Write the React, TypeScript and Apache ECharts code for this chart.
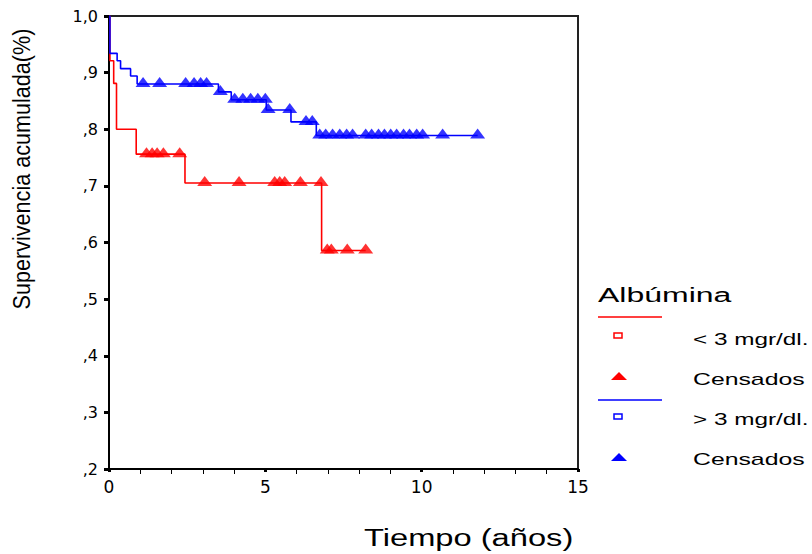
import React, { useEffect, useRef } from "react";
import * as echarts from "echarts";

// Kaplan–Meier survival by albumin group (time in years)
const redEventTimes = [0.03, 0.15, 0.24, 0.87, 2.43, 6.8];
const redSurvival = [0.921, 0.881, 0.8, 0.756, 0.705, 0.586];
const redCensoredTimes = [
  1.2, 1.38, 1.54, 1.74, 2.26, 3.06, 4.16, 5.3, 5.46, 5.62, 6.12, 6.78, 6.98,
  7.11, 7.62, 8.21,
];

const blueEventTimes = [0.03, 0.26, 0.37, 0.69, 0.9, 3.5, 3.91, 5.03, 5.82, 6.63];
const blueSurvival = [0.934, 0.921, 0.907, 0.894, 0.88, 0.866, 0.852, 0.834, 0.813, 0.789];
const blueCensoredTimes = [
  1.09, 1.62, 2.45, 2.72, 2.93, 3.12, 3.56, 4.02, 4.28, 4.53, 4.76, 5.0, 5.09,
  5.78, 6.3, 6.5, 6.74, 6.93, 7.15, 7.38, 7.6, 7.79, 8.21, 8.4, 8.62, 8.81,
  9.01, 9.2, 9.42, 9.61, 9.84, 10.03, 10.67, 11.79,
];

const xTicks = [0, 5, 10, 15];
const yMin = 0.2;
const yMax = 1.0;

const groupLabels = ["< 3 mgr/dl.", "> 3 mgr/dl."];
const censoredLabel = "Censados";
const legendTitle = "Albúmina";

const RED = "#ff0000";
const BLUE = "#0000ff";
const FONT = '"Liberation Sans", Arial, sans-serif';
const TICK_FONT = '"DejaVu Sans", sans-serif';

function stepCurve(times: number[], surv: number[], end: number) {
  const pts: number[][] = [[0, 1]];
  let prev = 1;
  times.forEach((t, i) => {
    pts.push([t, prev]);
    pts.push([t, surv[i]]);
    prev = surv[i];
  });
  pts.push([end, prev]);
  return pts;
}

function survivalAt(times: number[], surv: number[], t: number) {
  let s = 1;
  times.forEach((et, i) => {
    if (et <= t) s = surv[i];
  });
  return s;
}

function censorPoints(times: number[], surv: number[], cens: number[]) {
  return cens.map((t) => [t, survivalAt(times, surv, t)]);
}

function legendText(text: string, x: number, y: number, size: number, sx: number) {
  return {
    type: "text",
    x,
    y,
    scaleX: sx,
    style: {
      text,
      fontSize: size,
      fontFamily: FONT,
      fill: "#000",
      align: "left",
      verticalAlign: "middle",
    },
  };
}

export default function App() {
  const ref = useRef<HTMLDivElement>(null);

  useEffect(() => {
    if (!ref.current) return;
    const chart = echarts.init(ref.current, null, { renderer: "svg" });

    const redEnd = Math.max(...redCensoredTimes);
    const blueEnd = Math.max(...blueCensoredTimes);

    const option: any = {
      animation: false,
      backgroundColor: "#fff",
      grid: {
        left: 109,
        right: 234,
        top: 16,
        bottom: 85,
        containLabel: false,
        outerBoundsMode: "none",
        show: true,
        borderColor: "#222",
        borderWidth: 2,
      },
      xAxis: {
        type: "value",
        min: xTicks[0],
        max: xTicks[xTicks.length - 1],
        interval: 5,
        axisLine: { show: true, lineStyle: { color: "#000", width: 2 } },
        axisTick: { show: true, length: 3, lineStyle: { color: "#000", width: 3 } },
        minorTick: { show: true, splitNumber: 5, length: 5, lineStyle: { color: "#000", width: 1 } },
        splitLine: { show: false },
        axisLabel: {
          color: "#000",
          fontSize: 17,
          fontFamily: TICK_FONT,
          margin: 9,
        },
      },
      yAxis: {
        type: "value",
        min: yMin,
        max: yMax,
        interval: 0.1,
        axisLine: { show: true, lineStyle: { color: "#000", width: 2 } },
        axisTick: { show: true, length: 5, lineStyle: { color: "#000", width: 3 } },
        splitLine: { show: false },
        axisLabel: {
          color: "#000",
          fontSize: 16,
          fontFamily: TICK_FONT,
          margin: 11,
          formatter: (v: number) => {
            const d = Math.round(v * 10);
            return d === 10 ? "1,0" : "," + d;
          },
        },
      },
      series: [
        {
          name: groupLabels[0],
          type: "line",
          data: stepCurve(redEventTimes, redSurvival, redEnd),
          showSymbol: false,
          lineStyle: { color: RED, width: 1.6 },
          z: 2,
        },
        {
          name: groupLabels[1],
          type: "line",
          data: stepCurve(blueEventTimes, blueSurvival, blueEnd),
          showSymbol: false,
          lineStyle: { color: BLUE, width: 1.6 },
          z: 2,
        },
        {
          name: censoredLabel + " 1",
          type: "scatter",
          data: censorPoints(redEventTimes, redSurvival, redCensoredTimes),
          symbol: "triangle",
          symbolSize: [15, 10],
          symbolOffset: [0, -2],
          itemStyle: { color: RED },
          z: 3,
        },
        {
          name: censoredLabel + " 2",
          type: "scatter",
          data: censorPoints(blueEventTimes, blueSurvival, blueCensoredTimes),
          symbol: "triangle",
          symbolSize: [15, 10],
          symbolOffset: [0, -2],
          itemStyle: { color: BLUE },
          z: 3,
        },
      ],
      graphic: [
        {
          type: "text",
          x: 22,
          y: 169,
          rotation: Math.PI / 2,
          scaleX: 0.9,
          style: {
            text: "Supervivencia acumulada(%)",
            fontSize: 24,
            fontFamily: FONT,
            fill: "#000",
            align: "center",
            verticalAlign: "middle",
          },
        },
        {
          type: "text",
          x: 364,
          y: 538,
          scaleX: 1.42,
          style: {
            text: "Tiempo (años)",
            fontSize: 23,
            fontFamily: FONT,
            fill: "#000",
            align: "left",
            verticalAlign: "middle",
          },
        },
        legendText(legendTitle, 598, 295, 20, 1.6),
        {
          type: "line",
          shape: { x1: 598, y1: 317, x2: 662, y2: 317 },
          style: { stroke: RED, lineWidth: 1.5 },
        },
        {
          type: "rect",
          shape: { x: 614, y: 333, width: 8, height: 5 },
          style: { stroke: RED, fill: "#fff", lineWidth: 1.5 },
        },
        legendText(groupLabels[0], 693, 339, 16, 1.52),
        {
          type: "polygon",
          shape: { points: [[611, 380], [619, 372], [627, 380]] },
          style: { fill: RED },
        },
        legendText(censoredLabel, 693, 379, 16, 1.55),
        {
          type: "line",
          shape: { x1: 598, y1: 400, x2: 662, y2: 400 },
          style: { stroke: BLUE, lineWidth: 1.5 },
        },
        {
          type: "rect",
          shape: { x: 614, y: 414, width: 8, height: 5 },
          style: { stroke: BLUE, fill: "#fff", lineWidth: 1.5 },
        },
        legendText(groupLabels[1], 693, 419, 16, 1.52),
        {
          type: "polygon",
          shape: { points: [[611, 461], [619, 453], [627, 461]] },
          style: { fill: BLUE },
        },
        legendText(censoredLabel, 693, 459, 16, 1.55),
      ],
    };

    chart.setOption(option);
    return () => chart.dispose();
  }, []);

  return (
    <div
      ref={ref}
      style={{ position: "fixed", left: 0, top: 0, width: 812, height: 554, background: "#fff" }}
    />
  );
}
